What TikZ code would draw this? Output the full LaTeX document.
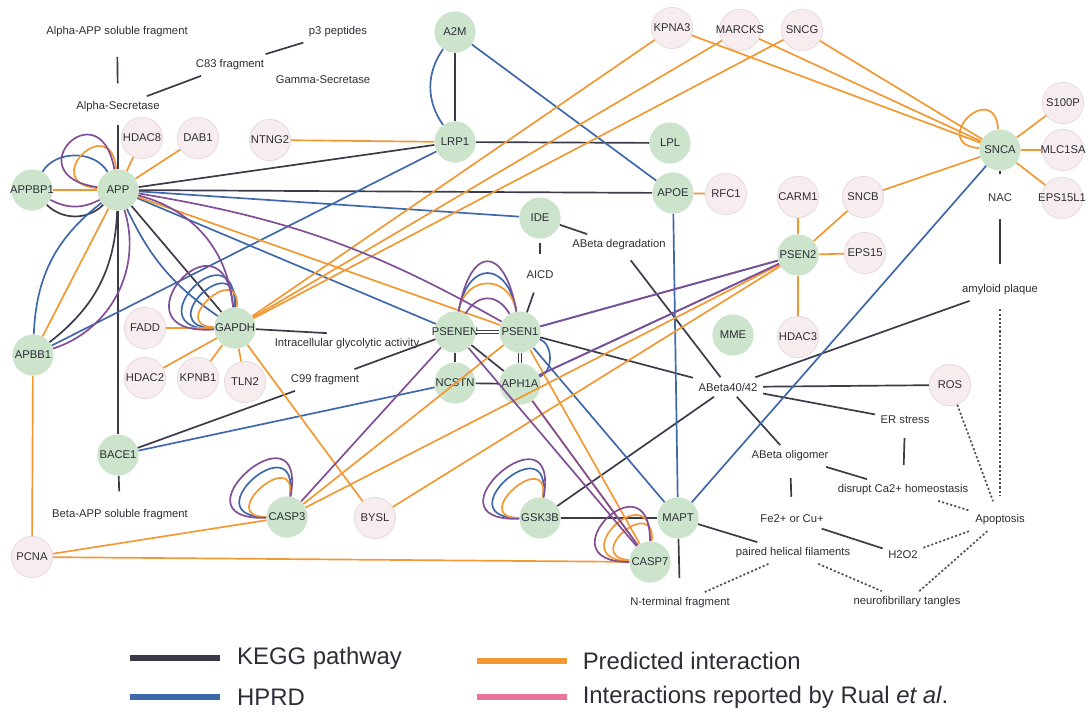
\documentclass[tikz,border=0pt]{standalone}
\usepackage{fontspec}
\setmainfont{Liberation Sans}
\usepackage{tikz}
\usetikzlibrary{automata, positioning}

\definecolor{keggc}{RGB}{58,58,72}
\definecolor{hprdc}{RGB}{62,104,170}
\definecolor{predc}{RGB}{242,152,50}
\definecolor{rualc}{RGB}{128,78,150}
\definecolor{rualkey}{RGB}{232,116,150}
\definecolor{knowngreen}{RGB}{204,228,204}
\definecolor{novelpink}{RGB}{247,237,239}
\definecolor{novelrim}{RGB}{232,218,221}
\definecolor{ink}{RGB}{45,45,55}

\newcommand{\protsize}{\fontsize{8}{9.6}\selectfont}
\newcommand{\keysize}{\fontsize{17}{20}\selectfont}

\tikzset{
    x=0.025cm, y=-0.025cm, % one unit is one pixel of the scan, y runs downwards
    every state/.style={inner sep=-3pt, minimum size=1.03cm, text=ink, font=\protsize}, % look of each protein
    known/.style={state, draw=none, fill=knowngreen}, % proteins already tied to the disease
    novel/.style={state, draw=novelrim, line width=0.6pt, fill=novelpink}, % candidate proteins
    term/.style={text=ink, font=\protsize, inner sep=1pt, outer sep=3pt}, % events of the pathway
    kegg/.style={draw=keggc, line width=1.2pt},
    hprd/.style={draw=hprdc, line width=1.2pt},
    pred/.style={draw=predc, line width=1.2pt},
    rual/.style={draw=rualc, line width=1.2pt},
    infer/.style={draw=keggc!90, line width=1.2pt, dash pattern=on 1.5pt off 1.5pt},
    key/.style={line width=4pt}, % thick lines of the legend
    keytext/.style={text=ink, font=\keysize, inner sep=0pt, anchor=west},
}

\begin{document}
\begin{tikzpicture}
\useasboundingbox (0,0) rectangle (1090,712);

\node[known] (A2M) at (455,32) {A2M};
\node[known] (LRP1) at (455,142) {LRP1};
\node[known] (LPL) at (670,143) {LPL};
\node[known] (APOE) at (673,193) {APOE};
\node[novel] (RFC1) at (726,194) {RFC1};
\node[known] (IDE) at (540,218) {IDE};
\node[novel] (KPNA3) at (672,28) {KPNA3};
\node[novel] (MARCKS) at (740,30) {MARCKS};
\node[novel] (SNCG) at (802,30) {SNCG};
\node[known] (SNCA) at (1000,150) {SNCA};
\node[novel] (S100P) at (1063,103) {S100P};
\node[novel] (MLC1SA) at (1063,150) {MLC1SA};
\node[novel] (EPS15L1) at (1062,198) {EPS15L1};
\node[novel] (CARM1) at (798,197) {CARM1};
\node[novel] (SNCB) at (863,197) {SNCB};
\node[known] (PSEN2) at (798,255) {PSEN2};
\node[novel] (EPS15) at (865,253) {EPS15};
\node[novel] (HDAC3) at (798,337) {HDAC3};
\node[known] (MME) at (733,335) {MME};
\node[novel] (ROS) at (950,385) {ROS};
\node[known] (APPBP1) at (32,190) {APPBP1};
\node[known] (APP) at (118,190) {APP};
\node[novel] (HDAC8) at (142,138) {HDAC8};
\node[novel] (DAB1) at (198,138) {DAB1};
\node[novel] (NTNG2) at (270,140) {NTNG2};
\node[known] (APBB1) at (33,355) {APBB1};
\node[novel] (FADD) at (145,328) {FADD};
\node[known] (GAPDH) at (235,328) {GAPDH};
\node[novel] (HDAC2) at (145,378) {HDAC2};
\node[novel] (KPNB1) at (198,378) {KPNB1};
\node[novel] (TLN2) at (245,382) {TLN2};
\node[known] (BACE1) at (118,455) {BACE1};
\node[known] (PSENEN) at (455,332) {PSENEN};
\node[known] (PSEN1) at (520,332) {PSEN1};
\node[known] (NCSTN) at (455,383) {NCSTN};
\node[known] (APH1A) at (520,384) {APH1A};
\node[known] (CASP3) at (287,517) {CASP3};
\node[novel] (BYSL) at (375,518) {BYSL};
\node[known] (GSK3B) at (540,518) {GSK3B};
\node[known] (MAPT) at (678,518) {MAPT};
\node[known] (CASP7) at (650,562) {CASP7};
\node[novel] (PCNA) at (32,557) {PCNA};

\node[term] (alphaAPP) at (117,32) {Alpha-APP soluble fragment};
\node[term] (p3) at (338,32) {p3 peptides};
\node[term] (C83) at (230,65) {C83 fragment};
\node[term] (gammaSec) at (323,80) {Gamma-Secretase};
\node[term] (alphaSec) at (118,107) {Alpha-Secretase};
\node[term] (glyco) at (347,344) {Intracellular glycolytic activity};
\node[term] (C99) at (325,380) {C99 fragment};
\node[term] (betaAPP) at (120,515) {Beta-APP soluble fragment};
\node[term] (AICD) at (540,275) {AICD};
\node[term] (degr) at (619,245) {ABeta degradation};
\node[term] (abeta) at (728,387) {ABeta40/42};
\node[term] (ERstress) at (905,420) {ER stress};
\node[term] (oligo) at (790,456) {ABeta oligomer};
\node[term] (calcium) at (903,490) {disrupt Ca2+ homeostasis};
\node[term] (metal) at (792,519) {Fe2+ or Cu+};
\node[term] (H2O2) at (903,555) {H2O2};
\node[term] (apoptosis) at (1000,520) {Apoptosis};
\node[term] (PHF) at (793,553) {paired helical filaments};
\node[term] (Nterm) at (680,603) {N-terminal fragment};
\node[term] (NFT) at (907,602) {neurofibrillary tangles};
\node[term] (NAC) at (1000,198) {NAC};
\node[term] (plaque) at (1000,290) {amyloid plaque};

\draw
(alphaAPP) edge[kegg, shorten <=10pt, shorten >=9pt] (alphaSec)
(alphaSec) edge[kegg] (C83)
(C83) edge[kegg] (p3)
(alphaSec) edge[kegg, shorten <=5pt] (APP)
(APP) edge[kegg] (LRP1)
(APP) edge[kegg] (APOE)
(APP) edge[kegg] (GAPDH)
(APP) edge[kegg] (BACE1)
(APP) edge[kegg, bend left=25] (APBB1)
(APPBP1) edge[kegg, bend right=45] (APP)
(A2M) edge[kegg] (LRP1)
(LRP1) edge[kegg] (LPL)
(BACE1) edge[kegg, shorten >=9pt] (betaAPP)
(C99) edge[kegg] (BACE1)
(C99) edge[kegg] (PSENEN)
(GAPDH) edge[kegg] ([xshift=41pt]glyco.north west)
(PSENEN) edge[kegg, line width=0.7pt, double=white, double distance=0.8pt] (PSEN1)
(PSENEN) edge[kegg] (NCSTN)
(PSEN1) edge[kegg, line width=0.7pt, double=white, double distance=0.8pt] (APH1A)
(NCSTN) edge[kegg] (APH1A)
(PSENEN) edge[kegg] (APH1A)
(IDE) edge[kegg] (degr)
(IDE) edge[kegg, shorten <=3pt, shorten >=8pt] (AICD)
(AICD) edge[kegg, shorten <=6pt] (PSEN1)
(PSEN1) edge[kegg] (abeta)
(degr) edge[kegg, shorten <=4pt] (abeta)
(GSK3B) edge[kegg] (abeta)
(GSK3B) edge[kegg] (MAPT)
(abeta) edge[kegg] (plaque)
(abeta) edge[kegg] (ROS)
(abeta) edge[kegg] (ERstress)
(abeta) edge[kegg] (oligo)
(ERstress) edge[kegg, shorten <=6pt, shorten >=10pt] (calcium)
(oligo) edge[kegg] (calcium)
(oligo) edge[kegg, shorten <=8pt, shorten >=9pt] (metal)
(metal) edge[kegg] (H2O2)
(MAPT) edge[kegg] (PHF)
(MAPT) edge[kegg, shorten >=10pt] (Nterm)
(SNCA) edge[kegg, shorten >=10pt] (NAC)
(NAC) edge[kegg, shorten <=8pt, shorten >=11pt] (plaque);

\draw
(plaque) edge[infer, shorten <=6pt, shorten >=10pt] (apoptosis)
(ROS) edge[infer, shorten >=6pt] (apoptosis)
(calcium) edge[infer] (apoptosis)
(H2O2) edge[infer] (apoptosis)
(NFT) edge[infer] (apoptosis)
(PHF) edge[infer] (NFT)
(PHF) edge[infer] (Nterm);

\draw
(A2M) edge[hprd, bend right=35] (LRP1)
(A2M) edge[hprd] (APOE)
(APOE) edge[hprd] (MAPT)
(SNCA) edge[hprd] (MAPT)
(APP) edge[hprd] (IDE)
(APP) edge[hprd] (PSENEN)
(APP) edge[hprd, bend right=15] (GAPDH)
(APPBP1) edge[hprd, bend left=60] (APP)
(APP) edge[hprd, bend right=25] (APBB1)
(LRP1) edge[hprd] (APBB1)
(BACE1) edge[hprd] (NCSTN)
(PSEN1) edge[hprd] (PSEN2)
(APH1A) edge[hprd] (PSEN2)
(PSEN1) edge[hprd] (MAPT)
(PSEN1) edge[hprd, bend left=70] (APH1A)
(PSENEN) edge[hprd, out=80, in=100, min distance=1.3cm] (PSEN1)
(GAPDH) edge[hprd, out=90, in=182, min distance=2.1cm] (GAPDH)
(GAPDH) edge[hprd, out=88, in=180, min distance=1.6cm] (GAPDH)
(CASP3) edge[hprd, out=82, in=180, min distance=1.9cm] (CASP3)
(GSK3B) edge[hprd, out=82, in=180, min distance=1.9cm] (GSK3B);

\draw
(NTNG2) edge[pred] (LRP1)
(APOE) edge[pred] (RFC1)
(KPNA3) edge[pred] (GAPDH)
(MARCKS) edge[pred] (GAPDH)
(SNCG) edge[pred] (GAPDH)
(KPNA3) edge[pred] (SNCA)
(MARCKS) edge[pred] (SNCA)
(SNCG) edge[pred] (SNCA)
(SNCA) edge[pred, out=95, in=175, min distance=1.3cm] (SNCA)
(SNCA) edge[pred] (S100P)
(SNCA) edge[pred] (MLC1SA)
(SNCA) edge[pred] (EPS15L1)
(SNCA) edge[pred] (SNCB)
(SNCB) edge[pred] (PSEN2)
(CARM1) edge[pred] (PSEN2)
(PSEN2) edge[pred] (EPS15)
(PSEN2) edge[pred] (HDAC3)
(CASP3) edge[pred] (PSEN2)
(BYSL) edge[pred] (PSEN2)
(CASP3) edge[pred] (PSEN1)
(GAPDH) edge[pred] (BYSL)
(GAPDH) edge[pred] (FADD)
(GAPDH) edge[pred] (HDAC2)
(GAPDH) edge[pred] (KPNB1)
(GAPDH) edge[pred] (TLN2)
(APP) edge[pred] (HDAC8)
(APP) edge[pred] (DAB1)
(APPBP1) edge[pred] (APP)
(APP) edge[pred] (APBB1)
(APP) edge[pred] (PSEN1)
(APBB1) edge[pred] (PCNA)
(PCNA) edge[pred] (CASP3)
(PCNA) edge[pred] (CASP7)
(PSEN1) edge[pred] (CASP7)
(APH1A) edge[pred] (CASP7)
(PSENEN) edge[pred, out=80, in=100, min distance=0.95cm] (PSEN1)
(APP) edge[pred, out=95, in=175, min distance=1.5cm] (APP)
(GAPDH) edge[pred, out=85, in=178, min distance=1.2cm] (GAPDH)
(CASP3) edge[pred, out=82, in=180, min distance=1.3cm] (CASP3)
(GSK3B) edge[pred, out=82, in=180, min distance=1.3cm] (GSK3B)
(CASP7) edge[pred, out=88, in=178, min distance=1.7cm] (CASP7)
(CASP7) edge[pred, out=85, in=175, min distance=1.2cm] (CASP7);

\draw
(APP) edge[rual, out=100, in=172, min distance=2.1cm] (APP)
(APPBP1) edge[rual, bend right=28] (APP)
(APP) edge[rual, bend left=45] (APBB1)
(APP) edge[rual, bend left=35] (GAPDH)
(APP) edge[rual, bend left=10] (PSEN1)
(GAPDH) edge[rual, out=95, in=184, min distance=2.7cm] (GAPDH)
(PSENEN) edge[rual, out=80, in=100, min distance=1.7cm] (PSEN1)
(PSENEN) edge[rual, out=60, in=120, min distance=0.6cm] (PSEN1)
(PSEN1) edge[rual] (PSEN2)
(APH1A) edge[rual] (PSEN2)
(CASP3) edge[rual] (PSENEN)
(PSENEN) edge[rual] (CASP7)
(APH1A) edge[rual] (CASP7)
(CASP3) edge[rual, out=80, in=182, min distance=2.5cm] (CASP3)
(GSK3B) edge[rual, out=80, in=182, min distance=2.5cm] (GSK3B)
(CASP7) edge[rual, out=90, in=180, min distance=2.2cm] (CASP7);

\coordinate (keggA) at (130,658); \coordinate (keggB) at (220,658);
\coordinate (hprdA) at (130,697); \coordinate (hprdB) at (220,697);
\coordinate (predA) at (477,661); \coordinate (predB) at (567,661);
\coordinate (rualA) at (477,697); \coordinate (rualB) at (567,697);
\draw
(keggA) edge[kegg, key] (keggB)
(hprdA) edge[hprd, key] (hprdB)
(predA) edge[pred, key] (predB)
(rualA) edge[draw=rualkey, key] (rualB);
\node[keytext, right=12pt of keggB] (keggtxt) {KEGG pathway};
\node[keytext, right=12pt of hprdB] (hprdtxt) {HPRD};
\node[keytext, right=11pt of predB] (predtxt) {Predicted interaction};
\node[keytext, right=11pt of rualB] (rualtxt) {Interactions reported by Rual \textit{et al}.};
\end{tikzpicture}
\end{document}
